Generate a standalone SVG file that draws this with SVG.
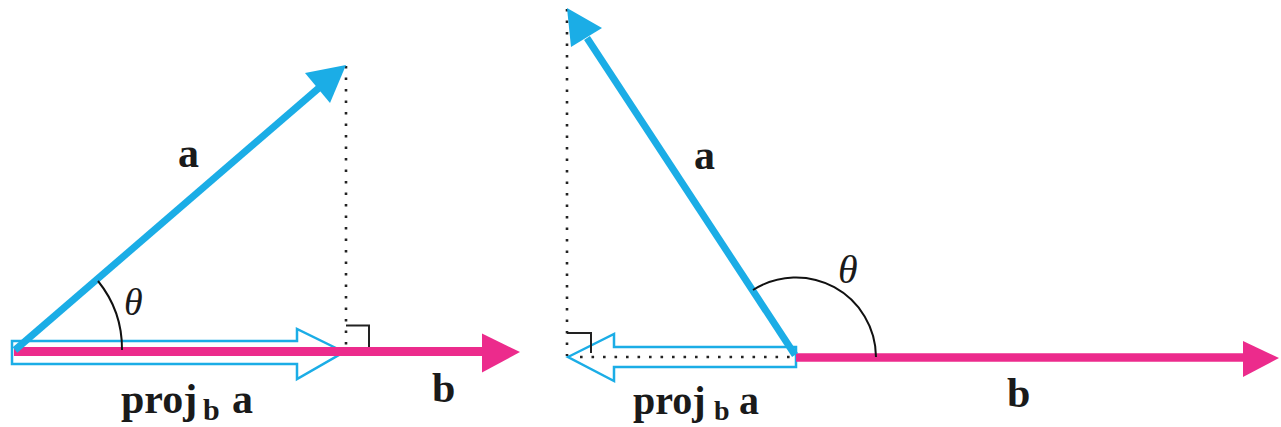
<svg xmlns="http://www.w3.org/2000/svg" width="1281" height="427" viewBox="0 0 1281 427">
<style>
.lbl{font-family:"Liberation Serif","Times New Roman",serif;font-weight:bold;fill:#1a1a1a}
.th{font-family:"Liberation Serif","Times New Roman",serif;font-style:italic;fill:#1a1a1a}
.blue{stroke:#1BADE6;fill:none}
.pink{stroke:#EC2B8C;fill:none}
.dot{stroke:#222;stroke-width:2.6;stroke-dasharray:2.6 8.9;fill:none}
.ra{stroke:#222;stroke-width:2;fill:none}
.arc{stroke:#111;stroke-width:2;fill:none}
.bh{fill:#1BADE6}
.ph{fill:#EC2B8C}
.outl{fill:#fff;stroke:#1BADE6;stroke-width:2.5;stroke-linejoin:miter}
</style>
<rect width="1281" height="427" fill="#fff"/>
<g id="left">
  <g id="left-proj">
    <polygon class="outl" points="12,341 297,341 297,329 344,352 297,379 297,364 12,364"/>
  </g>
  <g id="left-guides">
    <line class="dot" x1="346" y1="66" x2="346" y2="350"/>
    <polyline class="ra" points="346,325.5 369,325.5 369,347"/>
  </g>
  <g id="left-b">
    <line class="pink" x1="14" y1="351.5" x2="484" y2="351.5" stroke-width="9"/>
    <polygon class="ph" points="482,333.5 520,352 482,372.5"/>
  </g>
  <g id="left-a">
    <line class="blue" x1="15" y1="350" x2="320" y2="87" stroke-width="7"/>
    <polygon class="bh" points="346,65 305,73 330,103"/>
  </g>
  <g id="left-angle">
    <path class="arc" d="M98,281 A108,108 0 0,1 122,350"/>
  </g>
  <g id="left-labels">
    <text class="lbl" x="178" y="167" font-size="42">a</text>
    <text class="th" x="124" y="315" font-size="38">θ</text>
    <text class="lbl" font-size="42" y="413"><tspan x="121">proj</tspan><tspan x="203" y="420" font-size="30">b</tspan><tspan x="232" y="413">a</tspan></text>
    <text class="lbl" x="432" y="402" font-size="42">b</text>
  </g>
</g>
<g id="right">
  <g id="right-proj">
    <polygon class="outl" points="568,357 614,334 614,347 796,347 796,367 614,367 614,381"/>
  </g>
  <g id="right-guides">
    <line class="dot" x1="567" y1="9" x2="567" y2="356"/>
    <line class="dot" x1="580" y1="357" x2="792" y2="357"/>
    <polyline class="ra" points="567,333 591,333 591,353"/>
  </g>
  <g id="right-b">
    <line class="pink" x1="796" y1="357.5" x2="1246" y2="357.5" stroke-width="8.5"/>
    <polygon class="ph" points="1243,341 1279,358 1243,377"/>
  </g>
  <g id="right-a">
    <line class="blue" x1="795" y1="355" x2="587" y2="38" stroke-width="7"/>
    <polygon class="bh" points="567,8 602,28 571,47"/>
  </g>
  <g id="right-angle">
    <path class="arc" d="M753,290 A80,80 0 0,1 876,357"/>
  </g>
  <g id="right-labels">
    <text class="lbl" x="694" y="169" font-size="42">a</text>
    <text class="th" x="838" y="283" font-size="40">θ</text>
    <text class="lbl" font-size="40" y="414"><tspan x="633">proj</tspan><tspan x="714" y="420" font-size="28">b</tspan><tspan x="739" y="414">a</tspan></text>
    <text class="lbl" x="1007" y="407" font-size="42">b</text>
  </g>
</g>
</svg>
